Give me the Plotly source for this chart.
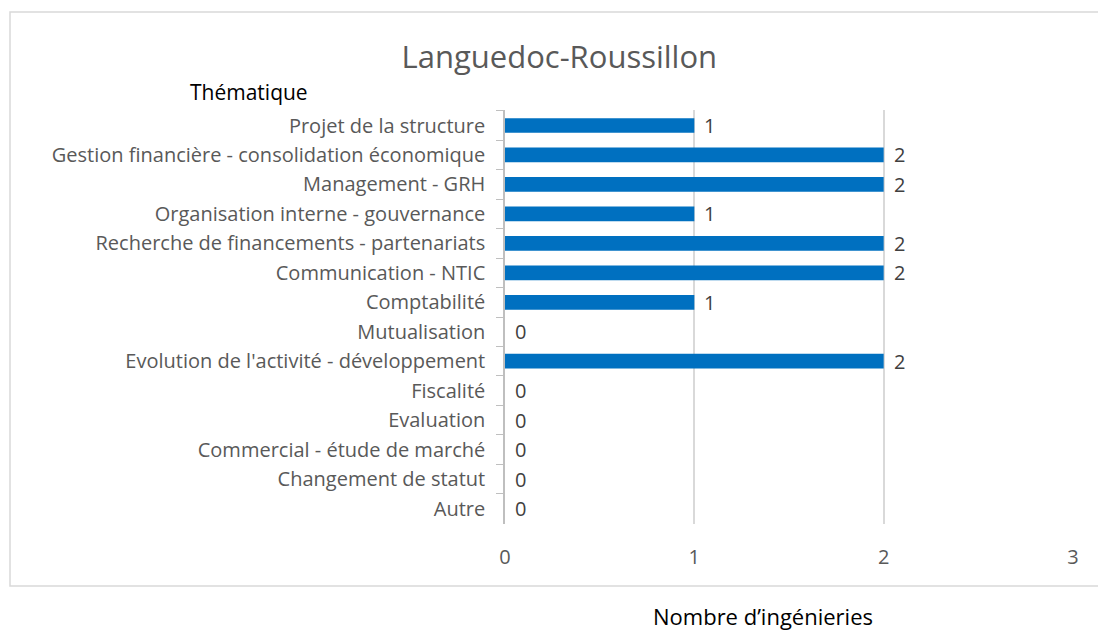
import plotly.graph_objects as go

categories = [
    "Projet de la structure",
    "Gestion financière - consolidation économique",
    "Management - GRH",
    "Organisation interne - gouvernance",
    "Recherche de financements - partenariats",
    "Communication - NTIC",
    "Comptabilité",
    "Mutualisation",
    "Evolution de l'activité - développement",
    "Fiscalité",
    "Evaluation",
    "Commercial - étude de marché",
    "Changement de statut",
    "Autre",
]
values = [1, 2, 2, 1, 2, 2, 1, 0, 2, 0, 0, 0, 0, 0]
x_ticks = [0, 1, 2, 3]

FONT = "Open Sans"

fig = go.Figure()
fig.add_trace(go.Bar(
    y=categories, x=values, orientation="h",
    marker=dict(color="#0070C0", line=dict(width=0)),
    width=0.5, hoverinfo="x+y",
))

for c, v in zip(categories, values):
    fig.add_annotation(x=v, y=c, xref="x", yref="y", text=str(v), showarrow=False,
                       xanchor="left", yanchor="middle", xshift=8,
                       font=dict(family=FONT, size=20, color="#404040"))

fig.update_layout(
    width=1098, height=633,
    margin=dict(l=505, r=25, t=110, b=109),
    paper_bgcolor="white", plot_bgcolor="white",
    showlegend=False,
    title=dict(text="Languedoc-Roussillon", x=0.5094, xanchor="center", y=0.909, yanchor="middle",
               font=dict(family=FONT, size=31, color="#595959")),
    font=dict(family=FONT, size=20, color="#595959"),
    bargap=0.5,
)
fig.update_xaxes(range=[0, 3], tickvals=x_ticks, showgrid=True, gridcolor="#D9D9D9", gridwidth=1.5,
                 zeroline=False, showline=False, ticks="", ticklabelstandoff=19,
                 tickfont=dict(family=FONT, size=20, color="#595959"))
fig.update_yaxes(autorange="reversed", showline=True, linecolor="#BFBFBF", linewidth=1.5,
                 ticks="outside", tickson="boundaries", ticklen=7, tickcolor="#BFBFBF",
                 ticklabelstandoff=14, showgrid=False,
                 tickfont=dict(family=FONT, size=20, color="#595959"))

# chart border
fig.add_shape(type="rect", xref="paper", yref="paper",
              x0=(10 - 505) / 568, x1=(1110 - 505) / 568,
              y0=(524 - 586) / 414, y1=(524 - 12) / 414,
              line=dict(color="#D9D9D9", width=1.5), layer="below")

fig.add_annotation(text="Thématique", xref="paper", yref="paper",
                   x=(188 - 505) / 568, xanchor="left", y=(524 - 92) / 414, yanchor="middle",
                   showarrow=False, font=dict(family=FONT, size=21, color="#000000"))
fig.add_annotation(text="Nombre d’ingénieries", xref="paper", yref="paper",
                   x=(763 - 505) / 568, xanchor="center", y=(524 - 616) / 414, yanchor="middle",
                   showarrow=False, font=dict(family=FONT, size=22, color="#000000"))

fig.write_html("out.html", config={"displayModeBar": False},
               post_script="document.body.style.margin='0';document.body.style.overflow='hidden';")
